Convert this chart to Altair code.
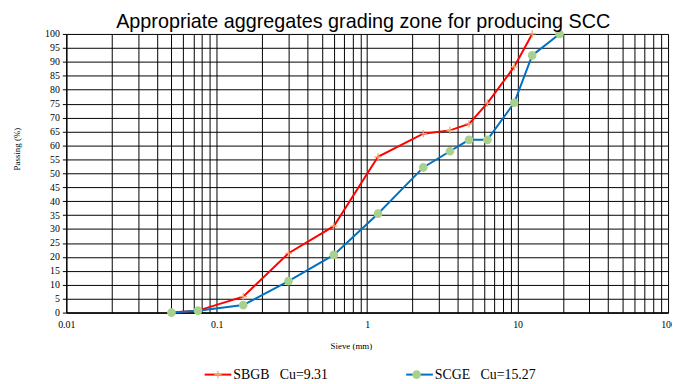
import altair as alt
import pandas as pd

# ---- data ----
series_names = ["SBGB\u00a0\u00a0\u00a0Cu=9.31", "SCGE\u00a0\u00a0\u00a0Cu=15.27"]
marker_keys = ["SBGB_marker", "SCGE_marker"]

sbgb_sieve = [0.05, 0.075, 0.15, 0.3, 0.6, 1.18, 2.36, 3.55, 4.75, 6.3, 9.5, 12.5]
sbgb_pass = [0, 0.7, 5.7, 21.3, 31.0, 55.9, 64.2, 65.4, 67.7, 75.2, 88.2, 100]

scge_sieve = [0.05, 0.075, 0.15, 0.3, 0.6, 1.18, 2.36, 3.55, 4.75, 6.3, 9.5, 12.5, 19]
scge_pass = [0, 0.7, 2.7, 11.3, 20.7, 35.5, 52.1, 57.9, 62.0, 62.0, 75.3, 92.3, 100]

x_grid = [0.01, 0.02, 0.03, 0.04, 0.05, 0.06, 0.07, 0.08, 0.09,
          0.1, 0.2, 0.3, 0.4, 0.5, 0.6, 0.7, 0.8, 0.9,
          1, 2, 3, 4, 5, 6, 7, 8, 9,
          10, 20, 30, 40, 50, 60, 70, 80, 90, 100]
x_labels = [0.01, 0.1, 1, 10, 100]
y_ticks = [0, 5, 10, 15, 20, 25, 30, 35, 40, 45, 50, 55, 60, 65, 70, 75, 80, 85, 90, 95, 100]

rows = []
for name, key, xs, ys in [(series_names[0], marker_keys[0], sbgb_sieve, sbgb_pass),
                          (series_names[1], marker_keys[1], scge_sieve, scge_pass)]:
    for i, (a, b) in enumerate(zip(xs, ys)):
        rows.append({"series": name, "mk": key, "sieve": a, "passing": b, "order": i})
df = pd.DataFrame(rows)

SERIF = "Liberation Serif"
SANS = "Liberation Sans"

PLUS = "M-0.27,0H0.27M0,-0.27V0.27"
CIRC = "M-0.28,0A0.28,0.28,0,1,0,0.28,0A0.28,0.28,0,1,0,-0.28,0Z"

label_list = "[" + ",".join(str(v) for v in x_labels) + "]"

x_enc = alt.X(
    "sieve:Q",
    scale=alt.Scale(type="log", domain=[0.01, 100], nice=False),
    axis=alt.Axis(
        values=x_grid, grid=True, gridColor="#000000", gridWidth=1, gridOpacity=1,
        ticks=False, labelPadding=7, labelFlush=False, labelOverlap=False,
        labelExpr=f"indexof({label_list}, datum.value) >= 0 ? '' + datum.value : ''",
        labelFont=SERIF, labelFontSize=10, labelColor="black",
        domainColor="black", domainWidth=1.5,
        title="Sieve (mm)", titleFont=SERIF, titleFontSize=9, titleFontWeight="normal",
        titleColor="black", titleX=288, titleY=33, titleBaseline="middle", titleAlign="center",
    ),
)
y_enc = alt.Y(
    "passing:Q",
    scale=alt.Scale(domain=[0, 100], nice=False),
    axis=alt.Axis(
        values=y_ticks, grid=True, gridColor="#000000", gridWidth=1, gridOpacity=1,
        tickSize=4, tickColor="black", labelPadding=3,
        labelFont=SERIF, labelFontSize=10, labelColor="black",
        domainColor="black", domainWidth=1.2,
        title="Passing (%)", titleFont=SERIF, titleFontSize=9, titleFontWeight="normal",
        titleColor="black", titleX=-50, titleY=116, titleAngle=270,
        titleBaseline="middle", titleAlign="center",
    ),
)

LEG_X, LEG_Y, COLPAD, LOFF = 139, 330, 75, 1

line_legend = alt.Legend(
    title=None, orient="none", legendX=LEG_X, legendY=LEG_Y, direction="horizontal",
    symbolType="stroke", symbolSize=729, symbolStrokeWidth=2,
    labelFont=SERIF, labelFontSize=14, labelColor="black", labelOffset=LOFF,
    columnPadding=COLPAD, padding=0, labelLimit=300,
)
mark_legend = alt.Legend(
    title=None, orient="none", legendX=LEG_X, legendY=LEG_Y, direction="horizontal",
    symbolSize=729, symbolStrokeWidth=1.2,
    labelExpr=f"datum.value == '{marker_keys[0]}' ? '{series_names[0]}' : '{series_names[1]}'",
    labelFont=SERIF, labelFontSize=14, labelColor="rgba(0,0,0,0)", labelOffset=LOFF,
    columnPadding=COLPAD, padding=0, labelLimit=300,
)

lines = alt.Chart(df).mark_line(strokeWidth=2).encode(
    x=x_enc, y=y_enc,
    color=alt.Color("series:N", scale=alt.Scale(domain=series_names, range=["#FF0000", "#0070C0"]),
                    legend=line_legend),
    order="order:Q",
)

points = alt.Chart(df).mark_point(size=729, opacity=1, strokeWidth=1.2).encode(
    x=x_enc, y=y_enc,
    shape=alt.Shape("mk:N", scale=alt.Scale(domain=marker_keys, range=[PLUS, CIRC]), legend=mark_legend),
    fill=alt.Fill("mk:N", scale=alt.Scale(domain=marker_keys, range=["rgba(0,0,0,0)", "#A9D18E"]),
                  legend=mark_legend),
    stroke=alt.Stroke("mk:N", scale=alt.Scale(domain=marker_keys, range=["#F4A06A", "#A9D18E"]),
                      legend=mark_legend),
)

chart = alt.layer(lines, points).properties(
    width=609, height=282,
    autosize=alt.AutoSizeParams(type="none"),
    padding={"left": 59, "top": 24, "right": 4, "bottom": 70},
    title=alt.TitleParams(
        "Appropriate aggregates grading zone for producing SCC",
        font=SANS, fontSize=20, fontWeight="normal", color="black", offset=3, dx=-4, dy=7,
    ),
).configure_view(stroke="black", strokeWidth=1).configure(background="white")

chart.save("out.html", embed_options={"renderer": "svg", "actions": False})
